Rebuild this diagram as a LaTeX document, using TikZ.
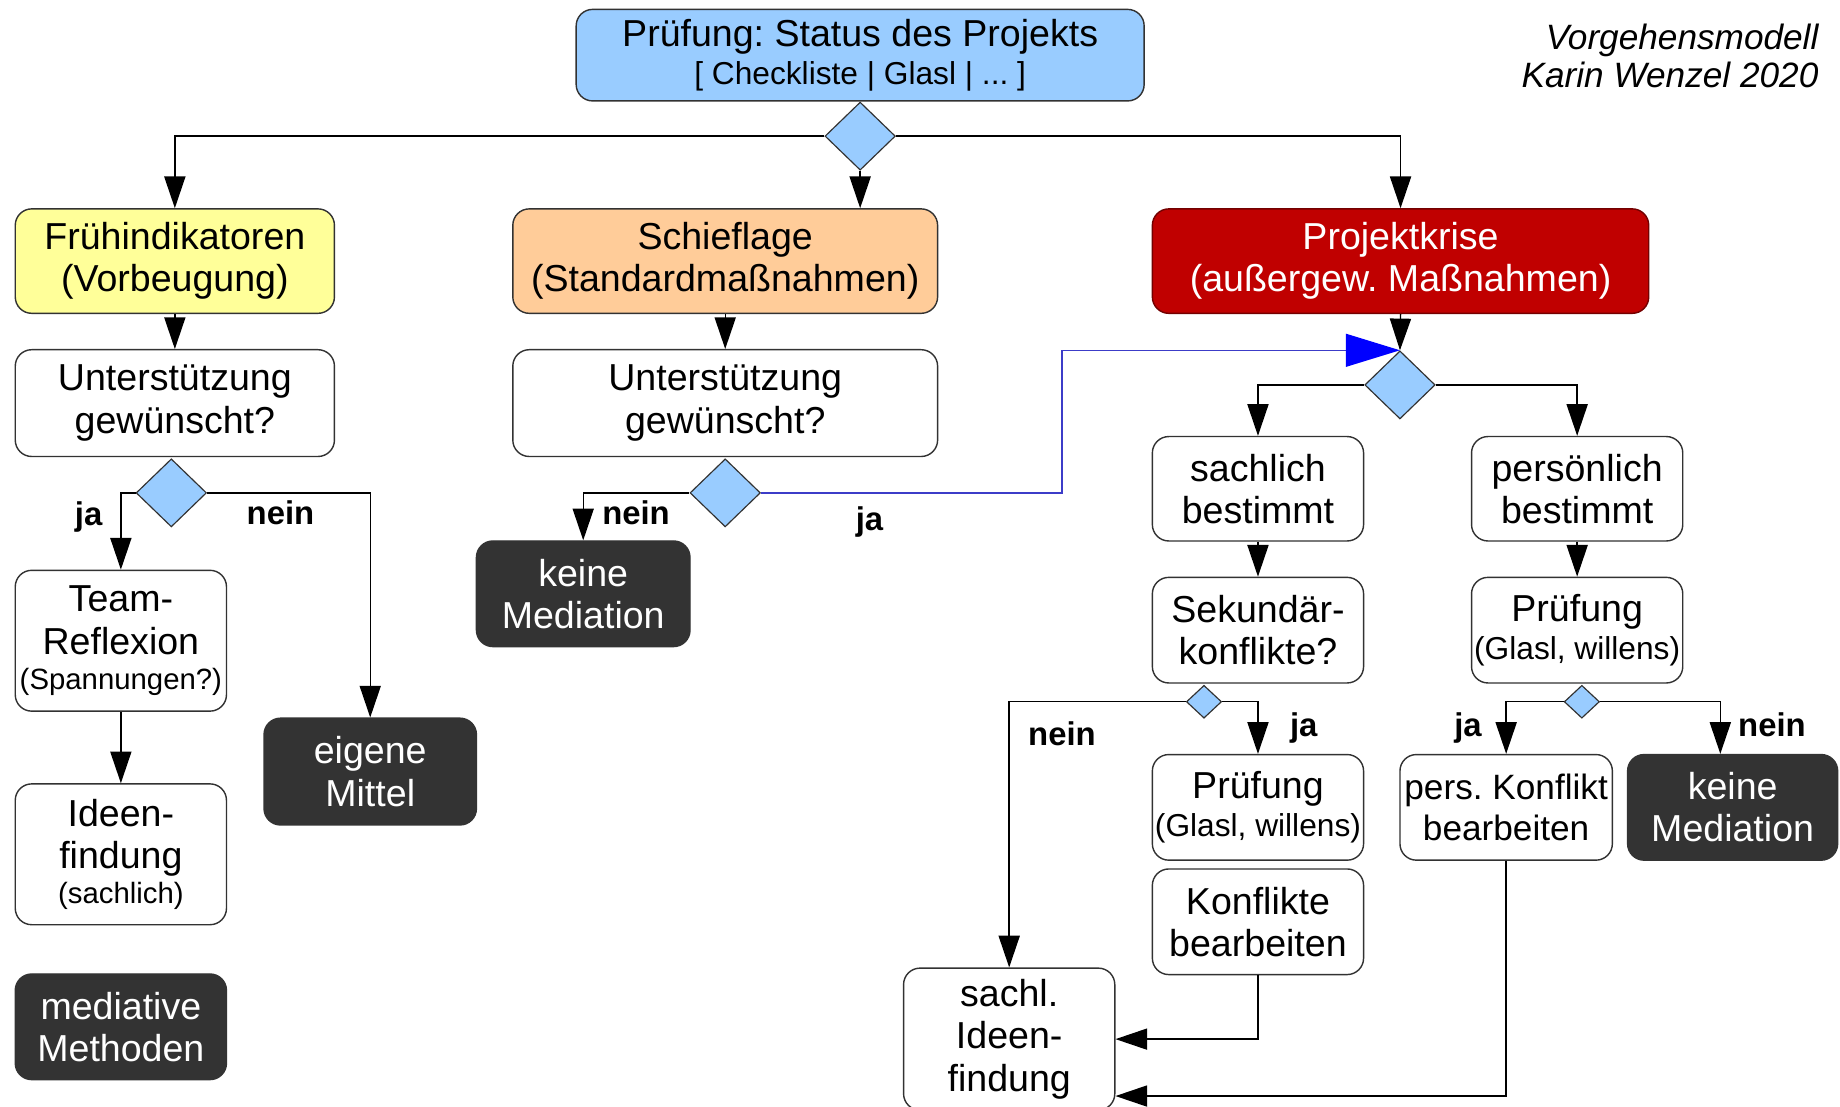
\documentclass[tikz,border=0pt]{standalone}
\usepackage{fontspec}
\setmainfont{Liberation Sans}
\usetikzlibrary{arrows.meta, calc, shapes.geometric}

\definecolor{hellblau}{RGB}{153,204,255}
\definecolor{gelb}{RGB}{255,255,153}
\definecolor{lachs}{RGB}{255,204,153}
\definecolor{krisenrot}{RGB}{192,0,0}
\definecolor{dunkel}{RGB}{51,51,51}
\definecolor{rahmen}{RGB}{50,50,50}
\definecolor{jalinie}{RGB}{60,60,200}

\newcommand{\kleinschrift}{\fontsize{12.5pt}{15pt}\selectfont}
\newcommand{\mittelschrift}{\fontsize{13.5pt}{16pt}\selectfont}

\begin{document}
\frenchspacing
\begin{tikzpicture}[x=0.5pt, y=-0.5pt,
  kasten/.style = {shape=rectangle, rounded corners=7pt, draw=rahmen, line width=0.6pt,
    fill=white, align=center, inner sep=1pt, minimum width=90pt, minimum height=45pt,
    font=\fontsize{16pt}{18pt}\selectfont},
  dunkelbox/.style = {kasten, fill=dunkel, draw=dunkel, text=white},
  raute/.style = {shape=diamond, draw=rahmen, line width=0.5pt, fill=hellblau,
    inner sep=0pt, minimum width=30pt, minimum height=29pt},
  lbl/.style = {font=\fontsize{14pt}{16pt}\selectfont\bfseries, anchor=base, inner sep=0pt},
  pfeil/.style = {line width=0.6pt, -{Triangle[length=13.5pt,width=9pt]}},
  japfeil/.style = {line width=0.6pt, draw=jalinie,
    -{Triangle[length=23pt,width=14pt,color=blue]}}]

  \useasboundingbox (0,0) rectangle (1568,943);
  \fill[white] (0,0) rectangle (1568,943);

  \node[kasten, fill=hellblau, minimum width=242pt, minimum height=39pt,
    font=\fontsize{16pt}{16pt}\selectfont] (status) at (733,47)
    {Prüfung: Status des Projekts\\{\mittelschrift [ Checkliste | Glasl | ... ]}};
  \node[raute] (r0) at (733,116) {};
  \node[align=right, anchor=north east, inner sep=0pt,
    font=\fontsize{15pt}{16pt}\selectfont\itshape] (titel) at (1550,20)
    {Vorgehensmodell\\Karin Wenzel 2020};

  \node[kasten, fill=gelb, minimum width=136pt, minimum height=44.5pt] (frueh) at (149,222.5)
    {Frühindikatoren\\(Vorbeugung)};
  \node[kasten, fill=lachs, minimum width=181pt, minimum height=44.5pt] (schief) at (618,222.5)
    {Schieflage\\(Standardmaßnahmen)};
  \node[kasten, fill=krisenrot, draw=krisenrot!60!black, text=white, minimum width=211.5pt,
    minimum height=44.5pt] (krise) at (1193.5,222.5) {Projektkrise\\(außergew. Maßnahmen)};

  \node[kasten, minimum width=136pt, minimum height=45.5pt] (wunsch1) at (149,343.5)
    {Unterstützung\\gewünscht?};
  \node[kasten, minimum width=181pt, minimum height=45.5pt] (wunsch2) at (618,343.5)
    {Unterstützung\\gewünscht?};
  \node[raute] (r1) at (146,420) {};
  \node[raute] (r2) at (618,420) {};

  \node[kasten, minimum height=60pt] (team) at (103,546)
    {Team-\\Reflexion\\[-3pt]{\kleinschrift (Spannungen?)}};
  \node[kasten, minimum height=60pt] (ideen) at (103,728)
    {Ideen-\\findung\\[-3pt]{\kleinschrift (sachlich)}};
  \node[dunkelbox] (methoden) at (103,875) {mediative\\Methoden};
  \node[dunkelbox, minimum width=90.5pt, minimum height=45.5pt] (eigen) at (315.5,657.5)
    {eigene\\Mittel};
  \node[dunkelbox, minimum width=91pt] (keine1) at (497,506) {keine\\Mediation};

  \node[raute] (r3) at (1193,328) {};
  \node[kasten, minimum height=44.5pt] (sachlich) at (1072,416.5) {sachlich\\bestimmt};
  \node[kasten, minimum height=44.5pt] (persoenlich) at (1344,416.5) {persönlich\\bestimmt};
  \node[kasten] (sekundaer) at (1072,537) {Sekundär-\\konflikte?};
  \node[kasten] (pruefP) at (1344,537) {Prüfung\\[-2pt]{\mittelschrift (Glasl, willens)}};
  \node[raute, minimum width=15pt, minimum height=14pt] (r4) at (1026,598) {};
  \node[raute, minimum width=15pt, minimum height=14pt] (r5) at (1348,598) {};
  \node[kasten] (pruefS) at (1072,688) {Prüfung\\[-2pt]{\mittelschrift (Glasl, willens)}};
  \node[kasten] (bearb) at (1072,785.5) {Konflikte\\bearbeiten};
  \node[kasten, minimum height=60.5pt] (sachl) at (860,885.5) {sachl.\\Ideen-\\findung};
  \node[kasten, minimum width=90.5pt, font=\fontsize{15pt}{17.5pt}\selectfont] (perskonf)
    at (1283.5,688) {pers. Konflikt\\bearbeiten};
  \node[dunkelbox, minimum width=89.5pt] (keine2) at (1476.5,688) {keine\\Mediation};

  \node[lbl] (ja1) at (75.5,447.5) {ja};
  \node[lbl] (nein1) at (239,447) {nein};
  \node[lbl] (nein2) at (542,447) {nein};
  \node[lbl] (ja2) at (741,452) {ja};
  \node[lbl] (nein3) at (905,635) {nein};
  \node[lbl] (ja3) at (1111,628) {ja};
  \node[lbl] (ja4) at (1251,628) {ja};
  \node[lbl] (nein4) at (1510,628) {nein};

  \draw[pfeil] (r0.west) -| (frueh.north);
  \draw[pfeil] (r0.south) -- (r0.south |- schief.north);
  \draw[pfeil] (r0.east) -| (krise.north);
  \draw[pfeil] (frueh.south) -- (wunsch1.north);
  \draw[pfeil] (schief.south) -- (wunsch2.north);
  \draw[pfeil] (krise.south) -- (r3.north);

  \draw[pfeil] (r1.west) -| (team.north);
  \draw[pfeil] (r1.east) -| (eigen.north);
  \draw[pfeil] (team.south) -- (ideen.north);
  \draw[pfeil] (r2.west) -| (keine1.north);
  \coordinate (knick) at (905,420);
  \draw[japfeil] (r2.east) -- (knick) |- (r3.north);

  \draw[pfeil] (r3.west) -| (sachlich.north);
  \draw[pfeil] (r3.east) -| (persoenlich.north);
  \draw[pfeil] (sachlich.south) -- (sekundaer.north);
  \draw[pfeil] (persoenlich.south) -- (pruefP.north);
  \draw[pfeil] (r4.west) -| (sachl.north);
  \draw[pfeil] (r4.east) -| (pruefS.north);
  \draw[pfeil] (r5.west) -| (perskonf.north);
  \draw[pfeil] (r5.east) -| ([xshift=-5.25pt]keine2.north);
  \draw[pfeil] (bearb.south) |- (sachl.east);
  \draw[pfeil] (perskonf.south) |- ([yshift=-24.25pt]sachl.east);
\end{tikzpicture}
\end{document}
